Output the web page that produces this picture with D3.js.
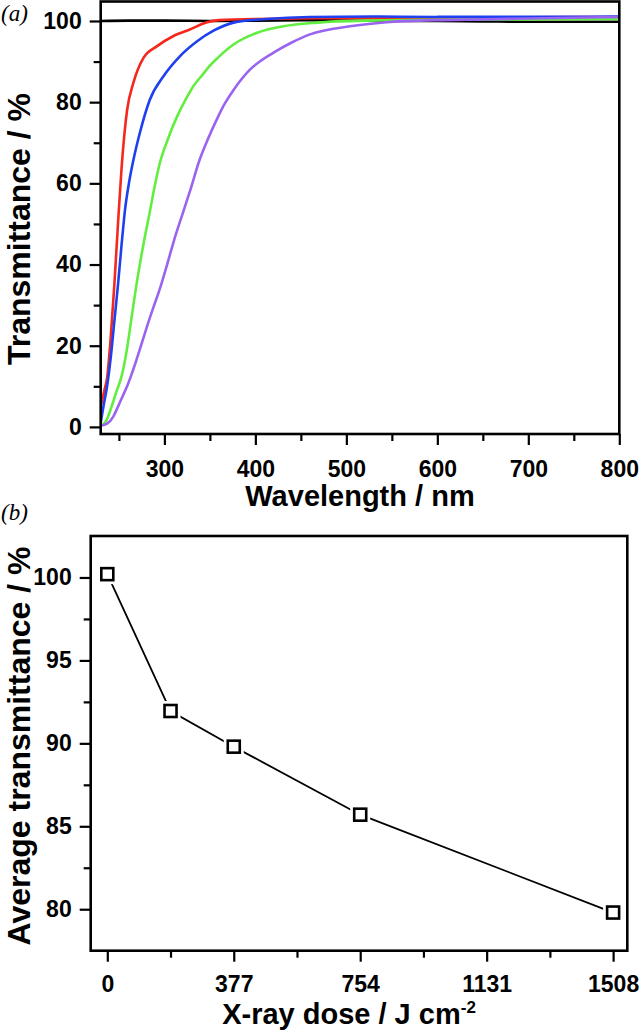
<!DOCTYPE html>
<html><head><meta charset="utf-8">
<script src="https://cdn.jsdelivr.net/npm/d3@7"></script>
<style>
body{margin:0;background:#fff}
text{font-family:"Liberation Sans",Arial,sans-serif;font-weight:bold;fill:#000}
.plabel{font-family:"Liberation Serif","DejaVu Serif",serif;font-style:italic;font-weight:normal}
</style></head><body>
<svg id="c" width="640" height="1033"></svg>
<script>
// ---------- Panel (a) data: [wavelength nm, transmittance %] ----------
const curveBlack = [[230,100],[260,100.1],[300,100.1],[350,100],[400,100.1],[460,100.2],[500,100.1],[560,100],[600,100],[650,99.9],[700,99.8],[750,99.8],[800,99.8]];
const curveRed = [[230,5],[234,9],[237,12],[241,22],[245,35],[249,50],[253,64],[256,72],[259,78],[266,84.8],[277,90.9],[292,93.8],[310,96.3],[328,97.9],[346,99.6],[360,100.2],[400,100.5],[500,100.7],[600,100.8],[700,100.9],[800,101]];
const curveBlue = [[230,1],[233,5],[237,10],[241,17],[245,26],[249,35],[253,45],[257,54],[261,60],[266,65.8],[273,72.4],[284,80.6],[299,86.4],[317,91.3],[336,95],[354,97.6],[376,99.6],[412,100.5],[460,101],[530,101.1],[600,101],[700,101],[800,101.1]];
const curveGreen = [[230,0.3],[236,1.5],[242,5],[247,8.5],[253,12.5],[258,18],[264,27],[270,36],[277,45],[284,53],[290,60],[295,65],[304,71],[314,76.5],[323,80.5],[332,84],[341,86.5],[350,89],[358,90.8],[376,94.2],[402,97.1],[431,98.7],[468,99.6],[522,100.1],[600,100.3],[700,100.4],[800,100.5]];
const curvePurple = [[230,0.3],[237,0.8],[244,2.6],[249,5],[254,7.5],[259,10],[264,13],[269,16.3],[275,20.5],[281,24.8],[288,29.5],[295,34],[303,40],[312,47],[320,52.5],[328,58],[339,66],[348,71],[357.5,75.7],[366,79.5],[376,83],[394,88],[420,92.2],[440,94.7],[460,96.7],[504,98.7],[544,99.7],[596,100.2],[650,100.4],[700,100.6],[800,101]];
const curveColors = ["#000000","#f5281e","#1e40f0","#62ee40","#9a64f0"];
const waveMajorTicks = [300,400,500,600,700,800];
const waveMinorTicks = [250,350,450,550,650,750];
const transMajorTicks = [0,20,40,60,80,100];
const transMinorTicks = [10,30,50,70,90];

// ---------- Panel (b) data ----------
const doses = [0,188.5,377,754,1508];
const avgTrans = [100.2,91.95,89.8,85.7,79.8];
const doseMajorTicks = [0,377,754,1131,1508];
const doseMinorTicks = [188.5,565.5,942.5,1319.5];
const avgMajorTicks = [80,85,90,95,100];
const avgMinorTicks = [82.5,87.5,92.5,97.5];

const svg = d3.select("#c");

function frame(g, x0, x1, y0, y1){
  g.append("rect").attr("x",x0).attr("y",y0).attr("width",x1-x0).attr("height",y1-y0)
   .attr("fill","none").attr("stroke","#000").attr("stroke-width",2.6);
}
function styleAxis(sel, fs){
  sel.select(".domain").remove();
  sel.selectAll(".tick line").attr("stroke","#000").attr("stroke-width",2.2);
  sel.selectAll(".tick text").style("font-size",fs+"px").attr("fill","#000");
}

// ================= Panel (a) =================
const xa = d3.scaleLinear().domain([230,800]).range([100.7,619.3]);
const ya = d3.scaleLinear().domain([-1.75,104.8]).range([434,1.5]);
const ga = svg.append("g");

ga.append("clipPath").attr("id","clipA").append("rect")
  .attr("x",100.7).attr("y",1.5).attr("width",518.6).attr("height",432.5);
const lineA = d3.line().x(d=>xa(d[0])).y(d=>ya(d[1])).curve(d3.curveMonotoneX);
[curveBlack,curveRed,curveBlue,curveGreen,curvePurple].forEach((c,i)=>{
  ga.append("path").attr("d",lineA(c)).attr("fill","none")
    .attr("stroke",curveColors[i]).attr("stroke-width",2.6).attr("clip-path","url(#clipA)");
});

let ax;
ax = ga.append("g").attr("transform","translate(0,434)")
  .call(d3.axisBottom(xa).tickValues(waveMajorTicks).tickSize(11).tickPadding(16).tickFormat(d3.format("d")));
styleAxis(ax,23);
ax = ga.append("g").attr("transform","translate(0,434)")
  .call(d3.axisBottom(xa).tickValues(waveMinorTicks).tickSize(7).tickFormat(""));
styleAxis(ax,23);
ax = ga.append("g").attr("transform","translate(100.7,0)")
  .call(d3.axisLeft(ya).tickValues(transMajorTicks).tickSize(11).tickPadding(8).tickFormat(d3.format("d")));
styleAxis(ax,23);
ax = ga.append("g").attr("transform","translate(100.7,0)")
  .call(d3.axisLeft(ya).tickValues(transMinorTicks).tickSize(7).tickFormat(""));
styleAxis(ax,23);
frame(ga,100.7,619.3,1.5,434);

ga.append("text").attr("x",360).attr("y",506).attr("text-anchor","middle")
  .style("font-size","29px").text("Wavelength / nm");
ga.append("text").attr("transform","translate(30,229) rotate(-90)").attr("text-anchor","middle")
  .style("font-size","32px").text("Transmittance / %");
ga.append("text").attr("class","plabel").attr("x",1).attr("y",21).style("font-size","23px").text("(a)");

// ================= Panel (b) =================
const xb = d3.scaleLinear().domain([-49.5,1550.3]).range([90.7,627.3]);
const yb = d3.scaleLinear().domain([77.5,102.5]).range([950.7,536]);
const gb = svg.append("g");

ax = gb.append("g").attr("transform","translate(0,950.7)")
  .call(d3.axisBottom(xb).tickValues(doseMajorTicks).tickSize(11).tickPadding(14).tickFormat(d3.format("d")));
styleAxis(ax,23);
ax = gb.append("g").attr("transform","translate(0,950.7)")
  .call(d3.axisBottom(xb).tickValues(doseMinorTicks).tickSize(7).tickFormat(""));
styleAxis(ax,23);
ax = gb.append("g").attr("transform","translate(90.7,0)")
  .call(d3.axisLeft(yb).tickValues(avgMajorTicks).tickSize(11).tickPadding(8).tickFormat(d3.format("d")));
styleAxis(ax,23);
ax = gb.append("g").attr("transform","translate(90.7,0)")
  .call(d3.axisLeft(yb).tickValues(avgMinorTicks).tickSize(7).tickFormat(""));
styleAxis(ax,23);

const pts = doses.map((d,i)=>[d,avgTrans[i]]);
gb.append("path").attr("d",d3.line().x(d=>xb(d[0])).y(d=>yb(d[1]))(pts))
  .attr("fill","none").attr("stroke","#000").attr("stroke-width",1.8);
const ms = 12;
gb.selectAll("rect.gap").data(pts).enter().append("rect").attr("class","gap")
  .attr("x",d=>xb(d[0])-ms/2-4).attr("y",d=>yb(d[1])-ms/2-4)
  .attr("width",ms+8).attr("height",ms+8).attr("fill","#fff");
gb.selectAll("rect.mk").data(pts).enter().append("rect").attr("class","mk")
  .attr("x",d=>xb(d[0])-ms/2).attr("y",d=>yb(d[1])-ms/2)
  .attr("width",ms).attr("height",ms).attr("fill","#fff").attr("stroke","#000").attr("stroke-width",2.6);
frame(gb,90.7,627.3,536,950.7);

const xl = gb.append("text").attr("x",349).attr("y",1024).attr("text-anchor","middle").style("font-size","29px");
xl.append("tspan").text("X-ray dose / J cm");
xl.append("tspan").attr("dy",-11).style("font-size","17px").text("-2");
gb.append("text").attr("transform","translate(30,746) rotate(-90)").attr("text-anchor","middle")
  .style("font-size","32px").text("Average transmittance / %");
gb.append("text").attr("class","plabel").attr("x",1).attr("y",520).style("font-size","23px").text("(b)");
</script>
</body></html>
